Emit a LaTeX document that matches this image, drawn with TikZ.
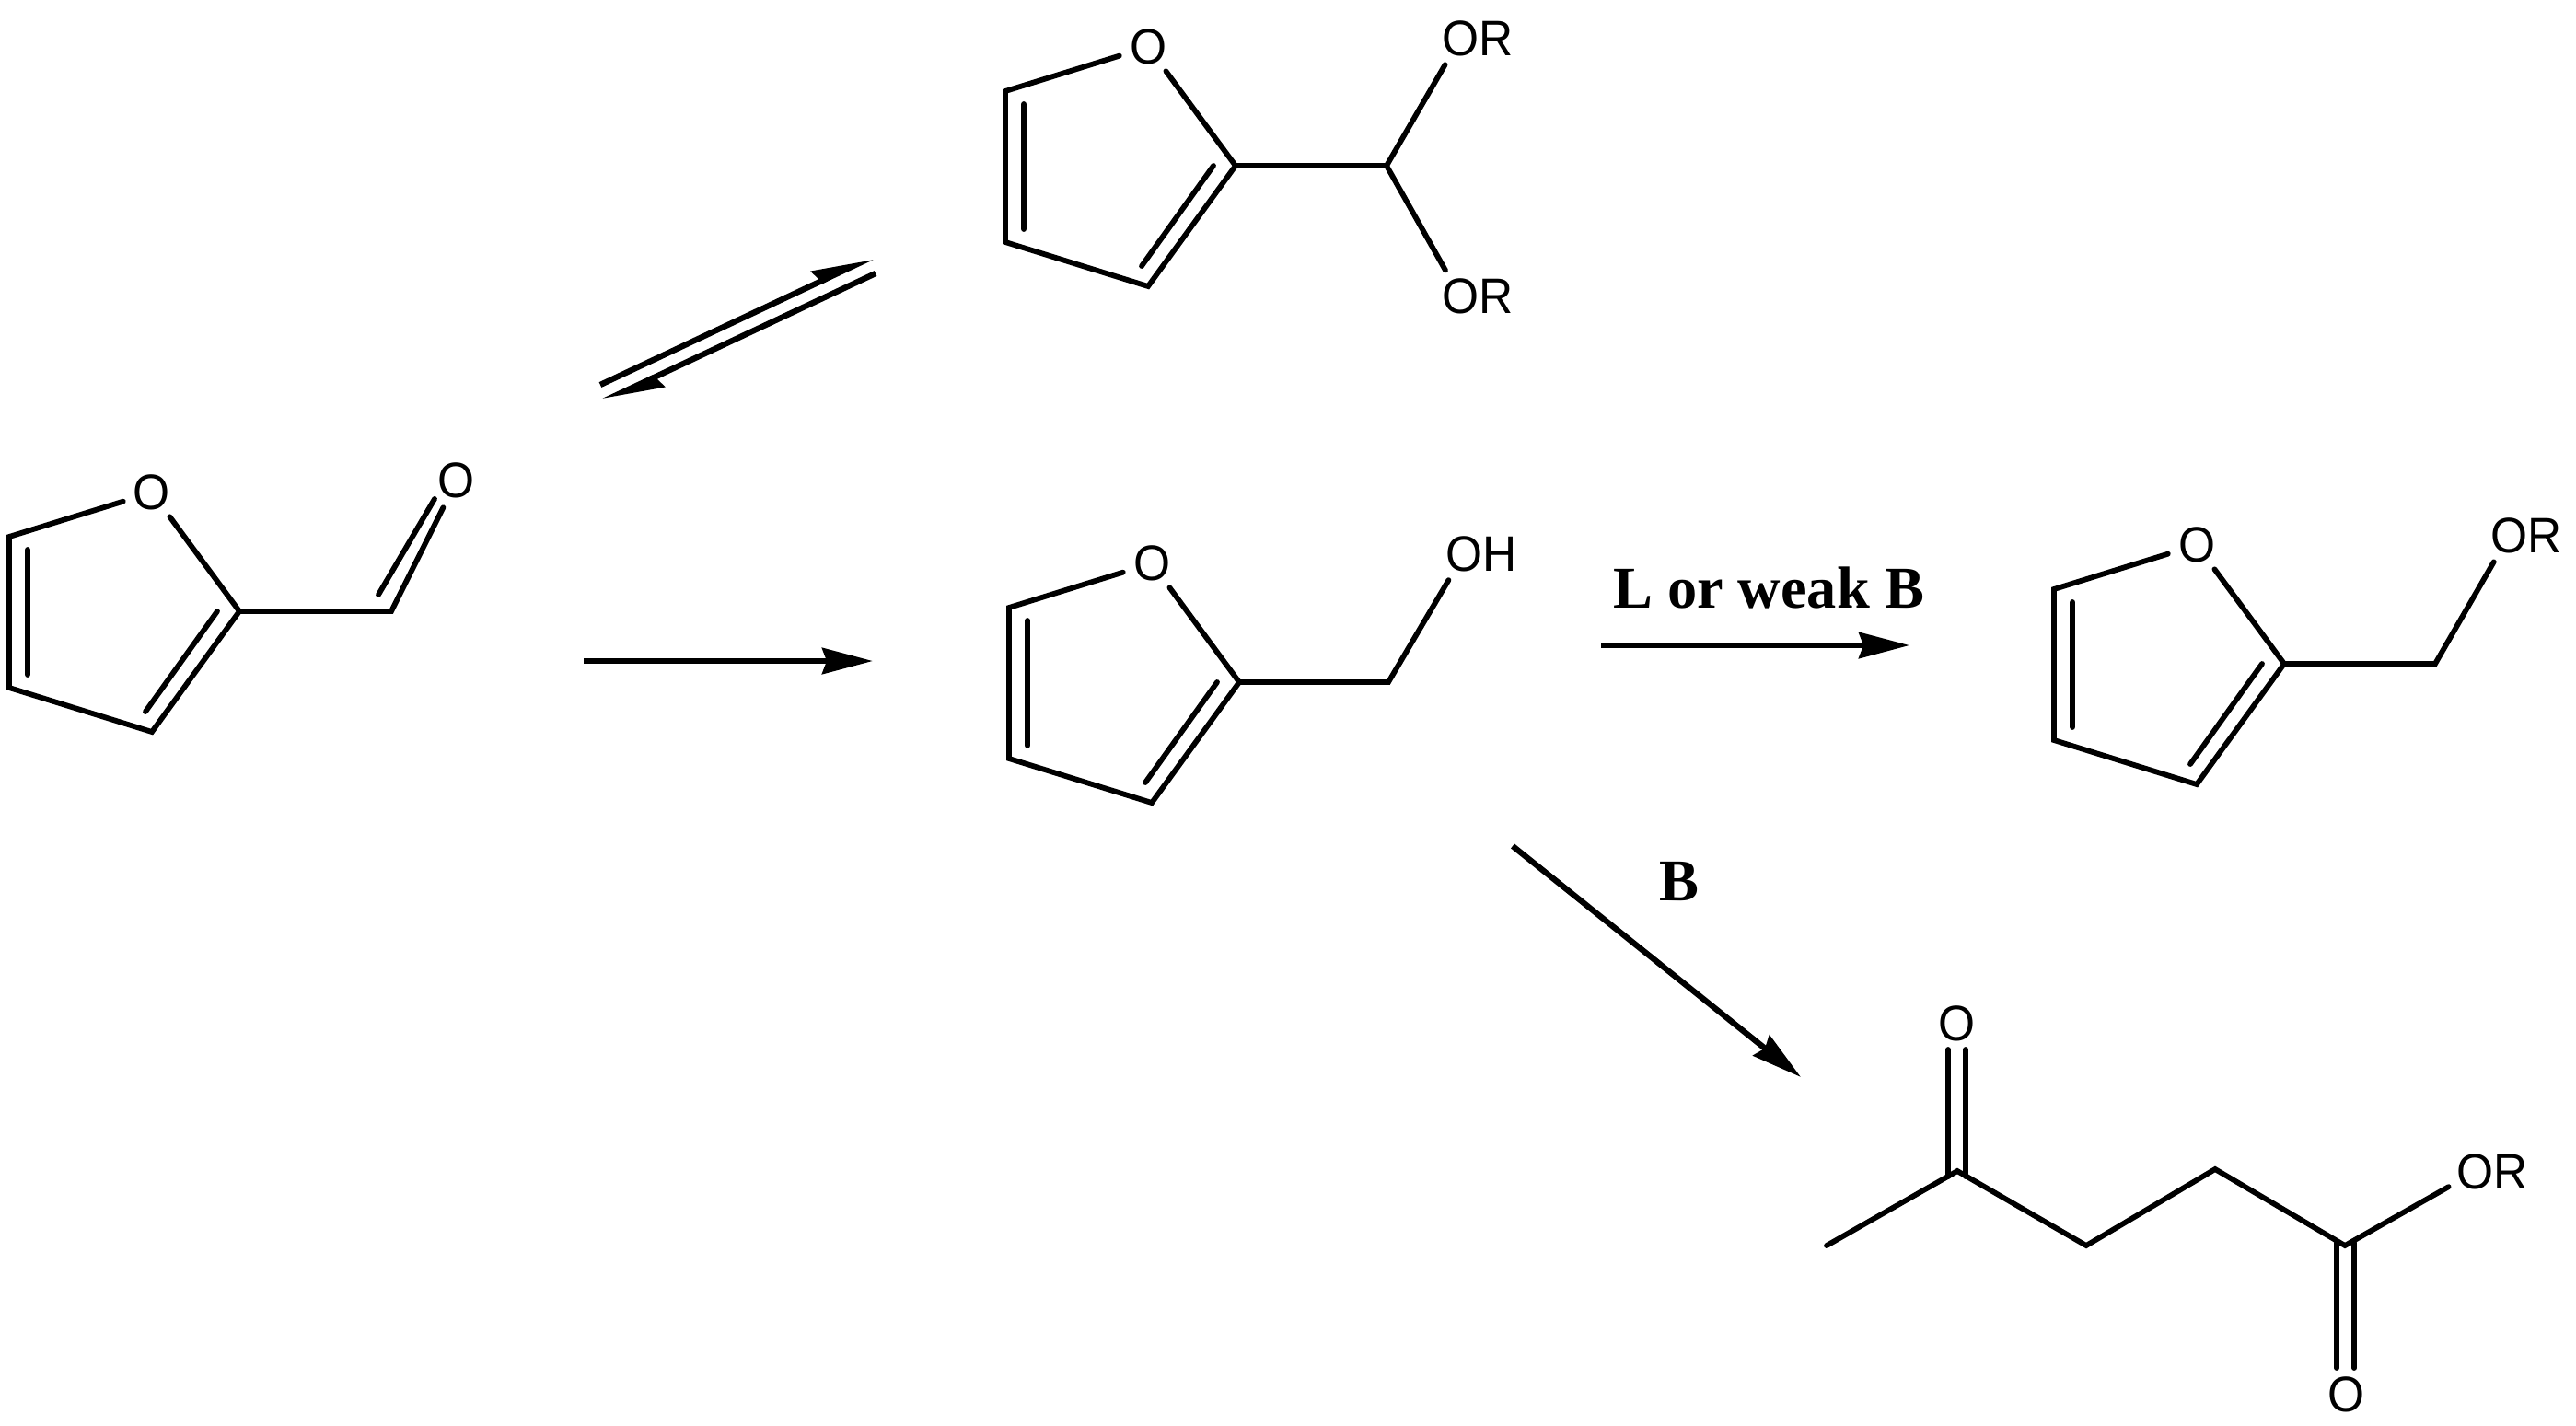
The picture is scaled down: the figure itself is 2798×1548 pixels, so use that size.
\documentclass[tikz,border=0pt]{standalone}
\usepackage{fontspec}
\usetikzlibrary{arrows.meta}
\newfontfamily\atomfont[FakeStretch=0.95]{Liberation Sans}
\newfontfamily\condfont{Liberation Serif}

\tikzset{
  bond/.style={line width=1.65pt,line cap=round},
  atom/.style={circle,inner sep=0pt,minimum size=18.2pt,font=\atomfont\fontsize{15.4}{15.4}\selectfont},
  cond/.style={inner sep=0pt,font=\condfont\bfseries\fontsize{18.3}{18.3}\selectfont},
  react/.style={line width=1.8pt,-{Stealth[length=15.6pt,width=8pt,inset=1.4pt]}},
  equil/.style={line width=1.8pt,-{Stealth[length=15.6pt,width=8pt,inset=1.4pt,harpoon]}}
}

\begin{document}
\begin{tikzpicture}[x=0.01cm,y=-0.01cm]

\useasboundingbox (0,0) rectangle (2798,1548);

% furan rings
\foreach \r/\cx/\cy in {alde/260/664,acet/1342/180,alco/1346/741,ethr/2481/721} {
  \node[atom] (\r-O) at (\cx-95,\cy-129) {O};
  \coordinate (\r-C2) at (\cx,\cy);
  \coordinate (\r-C3) at (\cx-95,\cy+131);
  \coordinate (\r-C4) at (\cx-250,\cy+83);
  \coordinate (\r-C5) at (\cx-250,\cy-81);
  \coordinate (\r-in1) at (\cx-230,\cy-67);
  \coordinate (\r-in2) at (\cx-230,\cy+69);
  \coordinate (\r-in3) at (\cx-24,\cy);
  \coordinate (\r-in4) at (\cx-102,\cy+109);
  \draw[bond] (\r-O)--(\r-C5)--(\r-C4)--(\r-C3)--(\r-C2)--(\r-O);
  \draw[bond] (\r-in1)--(\r-in2) (\r-in3)--(\r-in4);
}

% aldehyde
\coordinate (alde-C) at (425,664);
\node[atom] (alde-CO) at (496,522) {O};
\coordinate (alde-in1) at (411,646);
\coordinate (alde-in2) at (472,542);
\draw[bond] (alde-C2)--(alde-C)--(alde-CO);
\draw[bond] (alde-in1)--(alde-in2);

% acetal
\coordinate (acet-C) at (1506,180);
\node[atom] (acet-OR1) at (1586,42) {O\rlap{R}};
\node[atom] (acet-OR2) at (1586,322) {O\rlap{R}};
\draw[bond] (acet-C2)--(acet-C)--(acet-OR1);
\draw[bond] (acet-C)--(acet-OR2);

% alcohol
\coordinate (alco-C) at (1508,741);
\node[atom] (alco-OH) at (1590,602) {O\rlap{H}};
\draw[bond] (alco-C2)--(alco-C)--(alco-OH);

% ether
\coordinate (ethr-C) at (2645,721);
\node[atom] (ethr-OR) at (2725,582) {O\rlap{R}};
\draw[bond] (ethr-C2)--(ethr-C)--(ethr-OR);

% levulinate
\coordinate (levu-C1) at (1984,1353);
\coordinate (levu-C2) at (2126,1272);
\coordinate (levu-C3) at (2266,1353);
\coordinate (levu-C4) at (2406,1270);
\coordinate (levu-C5) at (2547,1353);
\node[atom] (levu-O1) at (2125,1112) {O};
\node[atom] (levu-O2) at (2548,1515) {O};
\node[atom] (levu-OR) at (2688,1273) {O\rlap{R}};
\coordinate (levu-a1) at (2116,1278);
\coordinate (levu-a2) at (2116,1140);
\coordinate (levu-b1) at (2135,1278);
\coordinate (levu-b2) at (2135,1140);
\coordinate (levu-c1) at (2538,1350);
\coordinate (levu-c2) at (2538,1486);
\coordinate (levu-d1) at (2557,1350);
\coordinate (levu-d2) at (2557,1486);
\draw[bond] (levu-C1)--(levu-C2)--(levu-C3)--(levu-C4)--(levu-C5)--(levu-OR);
\draw[bond] (levu-a1)--(levu-a2) (levu-b1)--(levu-b2);
\draw[bond] (levu-c1)--(levu-c2) (levu-d1)--(levu-d2);

% arrows
\coordinate (eq-a1) at (652,418);
\coordinate (eq-a2) at (948,279);
\coordinate (eq-b1) at (951,297);
\coordinate (eq-b2) at (655,436);
\draw[equil] (eq-a1)--(eq-a2);
\draw[equil] (eq-b1)--(eq-b2);

\coordinate (re-a1) at (634,718);
\coordinate (re-a2) at (948,718);
\coordinate (re-b1) at (1739,701);
\coordinate (re-b2) at (2074,701);
\coordinate (re-c1) at (1643,919);
\coordinate (re-c2) at (1956,1170);
\draw[react] (re-a1)--(re-a2);
\draw[react] (re-b1)--(re-b2);
\draw[react] (re-c1)--(re-c2);

\node[cond] (lab-ethr) at (1921,638) {L or weak B};
\node[cond] (lab-levu) at (1824,958) {B};

\end{tikzpicture}
\end{document}
